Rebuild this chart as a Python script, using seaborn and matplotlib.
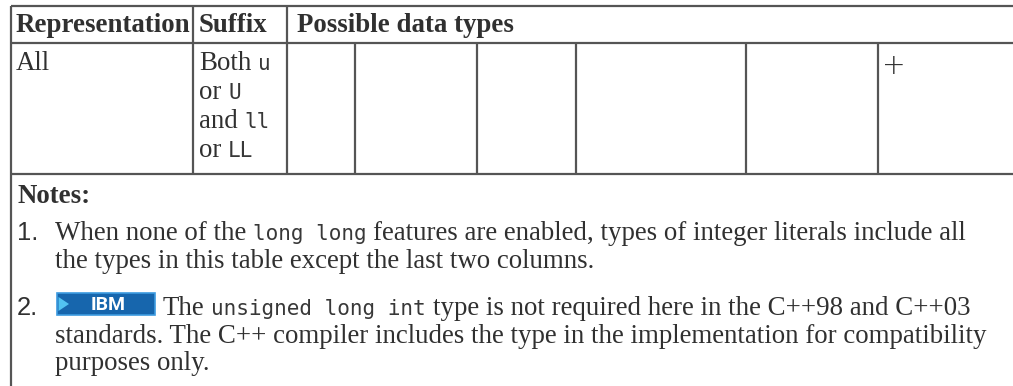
import matplotlib
matplotlib.use("Agg")
import matplotlib.pyplot as plt
import seaborn as sns
from matplotlib.patches import Rectangle, Polygon

# ---------------- table content ----------------
header_labels = ["Representation", "Suffix", "Possible data types"]
representation = ["All"]
suffix_lines = [
    [("Both", "serif"), ("u", "mono")],
    [("or", "serif"), ("U", "mono")],
    [("and", "serif"), ("ll", "mono")],
    [("or", "serif"), ("LL", "mono")],
]
type_marks = ["", "", "", "", "", "+"]
notes_title = "Notes:"
note_numbers = ["1.", "2."]
note1_lines = [
    [("When none of the", "serif"), ("long long", "mono"),
     ("features are enabled, types of integer literals include all", "serif")],
    [("the types in this table except the last two columns.", "serif")],
]
note2_badge = "IBM"
note2_lines = [
    [("The", "serif"), ("unsigned long int", "mono"),
     ("type is not required here in the C++98 and C++03", "serif")],
    [("standards. The C++ compiler includes the type in the implementation for compatibility", "serif")],
    [("purposes only.", "serif")],
]

# ---------------- layout (pixels) ----------------
W, H = 1013, 386
LEFT = 10.5
TOP, HEAD_BOT, ROW_BOT = 6, 43, 174
col_x = [193, 287]                       # Representation | Suffix | Possible
type_x = [287, 355, 477, 576, 746, 878, W + 5]
LINE_C = "#555555"
TEXT_C = "#303030"

sns.set_theme(style="white")
plt.rcParams["font.family"] = ["Liberation Serif", "DejaVu Serif"]

fig = plt.figure(figsize=(W / 100, H / 100), dpi=100)
ax = fig.add_axes([0, 0, 1, 1])
ax.set_xlim(0, W)
ax.set_ylim(H, 0)
ax.axis("off")
fig.canvas.draw()
r = fig.canvas.get_renderer()

SERIF = dict(family=["Liberation Serif", "DejaVu Serif"], color=TEXT_C)
MONO = dict(family=["DejaVu Sans Mono"], color="#383838")
SANS = dict(family=["Liberation Sans", "DejaVu Sans"], color=TEXT_C)


def text_width(s, **props):
    t = ax.text(0, 100, s, **props)
    w = t.get_window_extent(r).width
    t.remove()
    return w


# fit serif size so the long line spans ~938 px
ref_line = note2_lines[1][0][0]
base = 15.0
serif_size = base * 938.0 / text_width(ref_line, size=base, **SERIF)
# fit mono size so "unsigned long int" spans ~216 px
mono_size = base * 216.0 / text_width(note2_lines[0][1][0], size=base, **MONO)

STYLES = {
    "serif": dict(size=serif_size, **SERIF),
    "mono": dict(size=mono_size, **MONO),
}
space_w = text_width("x x", **STYLES["serif"]) - text_width("xx", **STYLES["serif"])


def draw_segments(x, y, segs):
    for i, (s, st) in enumerate(segs):
        if i > 0:
            x += space_w
        ax.text(x, y, s, va="baseline", ha="left", **STYLES[st])
        x += text_width(s, **STYLES[st])
    return x


# ---------------- grid lines ----------------
lw = 1.6
ax.hlines([TOP, HEAD_BOT, ROW_BOT], LEFT, W + 5, color=LINE_C, lw=lw)
ax.vlines(LEFT, TOP, H + 5, color=LINE_C, lw=lw)
ax.vlines(col_x, TOP, ROW_BOT, color=LINE_C, lw=lw)
ax.vlines(type_x[1:-1], HEAD_BOT, ROW_BOT, color=LINE_C, lw=lw)

# ---------------- header ----------------
head_x = [16, 199, 297]
for hx, lab in zip(head_x, header_labels):
    ax.text(hx, 32, lab, va="baseline", ha="left", weight="bold", **STYLES["serif"])

# ---------------- body row ----------------
ROW_BASE = 70
ax.text(16, ROW_BASE, representation[0], va="baseline", ha="left", **STYLES["serif"])
for i, segs in enumerate(suffix_lines):
    draw_segments(199, ROW_BASE + i * 29, segs)
for j, mark in enumerate(type_marks):
    if mark:
        ax.text(type_x[j] + 16, 66, mark, va="center", ha="center",
                size=serif_size * 1.05, family=["DejaVu Sans"], weight="light", color=TEXT_C)

# ---------------- notes ----------------
ax.text(17, 203, notes_title, va="baseline", ha="left", weight="bold", **STYLES["serif"])
num_style = dict(size=serif_size * 0.95, **SANS)
ax.text(17, 240, note_numbers[0], va="baseline", ha="left", **num_style)
for i, segs in enumerate(note1_lines):
    draw_segments(55, 240 + i * 28, segs)

ax.text(17, 315, note_numbers[1], va="baseline", ha="left", **num_style)
# IBM badge
bx0, bx1, by0, by1 = 57, 155, 293, 315
ax.add_patch(Rectangle((bx0, by0), bx1 - bx0, by1 - by0, facecolor="#1766ad",
                       edgecolor="#3d9be0", lw=1.2))
ax.add_patch(Polygon([(bx0 + 1.5, by0 + 4), (bx0 + 12, (by0 + by1) / 2), (bx0 + 1.5, by1 - 4)],
                     closed=True, facecolor="#52c3f2", edgecolor="none"))
ax.text((bx0 + bx1) / 2 + 2, (by0 + by1) / 2 + 0.5, note2_badge, ha="center", va="center",
        color="white", size=serif_size * 0.72, weight="bold", family=["Roboto", "DejaVu Sans"])
draw_segments(163, 315, note2_lines[0])
draw_segments(55, 343, note2_lines[1])
draw_segments(55, 370, note2_lines[2])

fig.savefig("out.png", dpi=100, facecolor="white")
